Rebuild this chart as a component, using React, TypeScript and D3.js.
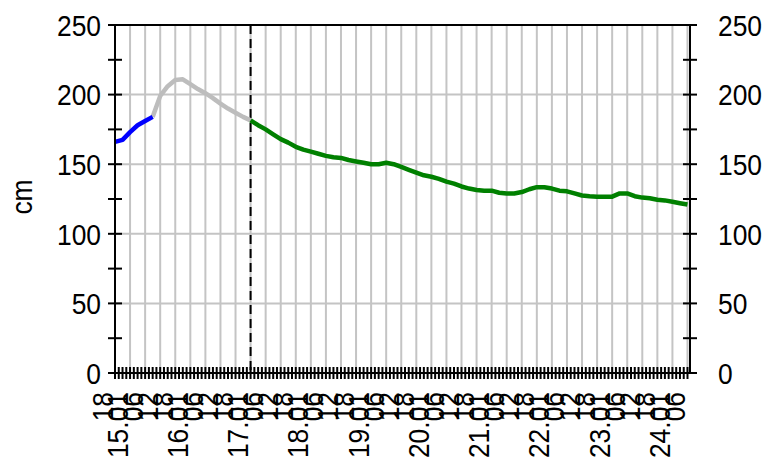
import { useEffect, useRef } from 'react';
import * as d3 from 'd3';

// time axis: 14.01 18:00 to 24.01 07:00
const domainStart = new Date(2024, 0, 14, 18);
const domainEnd = new Date(2024, 0, 24, 7);
const nowTime = new Date(2024, 0, 17, 0);

// measured (blue), 3-hourly from 14.01 18:00
const blueStart = new Date(2024, 0, 14, 18);
const blueValues = [166, 167.5, 173, 178, 181, 184];

// earlier forecast (grey), 3-hourly from 15.01 09:00
const grayStart = new Date(2024, 0, 15, 9);
const grayValues = [184, 199, 206, 210.5, 211, 207.5, 204, 201, 197.5, 193.5, 190, 187, 184, 181.5];

// forecast (green), 3-hourly from 17.01 00:00
const greenStart = new Date(2024, 0, 17, 0);
const greenValues = [
  181.5, 178, 175, 171.5, 168, 165.5, 162.5, 160.5, 159, 157.5,
  156, 155, 154.5, 153, 152, 151, 150, 150, 151, 150,
  148, 146, 144, 142, 141, 139.5, 137.5, 136, 134, 132.5,
  131.5, 131, 131, 129.5, 129, 129, 130, 132, 133.5, 133.5,
  132.5, 131, 130.5, 129, 127.5, 127, 126.7, 126.7, 126.7, 129,
  129, 127, 126, 125.5, 124.5, 124, 123, 122, 121,
];

const yTicksMajor = [0, 50, 100, 150, 200, 250];
const yTicksMinor = [0, 25, 50, 75, 100, 125, 150, 175, 200, 225, 250];
const yLabel = 'cm';

const FONT = '"Liberation Sans", Arial, sans-serif';

function toSeries(start: Date, values: number[]) {
  return values.map((v, i) => ({ t: d3.timeHour.offset(start, i * 3), v }));
}

export default function App() {
  const svgRef = useRef<SVGSVGElement>(null);

  useEffect(() => {
    if (!svgRef.current) return;
    const svg = d3.select(svgRef.current);
    svg.selectAll('*').remove();

    const left = 115, right = 690, top = 25, bottom = 373;

    const x = d3.scaleTime().domain([domainStart, domainEnd]).range([left, right]);
    const y = d3.scaleLinear().domain([0, 250]).range([bottom, top]);

    svg.append('rect').attr('width', 768).attr('height', 470).attr('fill', '#fff');

    // grid
    const gridTimes = d3.timeHour.every(6)!.range(domainStart, d3.timeHour.offset(domainEnd, 1));
    svg.append('g').selectAll('line').data(gridTimes).join('line')
      .attr('x1', d => x(d)).attr('x2', d => x(d))
      .attr('y1', top).attr('y2', bottom)
      .attr('stroke', '#c4c4c4').attr('stroke-width', 2);

    svg.append('g').selectAll('line').data(yTicksMajor.filter(v => v > 0 && v < 250)).join('line')
      .attr('x1', left).attr('x2', right)
      .attr('y1', d => y(d)).attr('y2', d => y(d))
      .attr('stroke', '#c4c4c4').attr('stroke-width', 2);

    // now marker
    svg.append('line')
      .attr('x1', x(nowTime)).attr('x2', x(nowTime))
      .attr('y1', top).attr('y2', bottom)
      .attr('stroke', '#000').attr('stroke-width', 2)
      .attr('stroke-dasharray', '9,5');

    const line = d3.line<{ t: Date; v: number }>()
      .x(d => x(d.t))
      .y(d => y(d.v));

    const series: [Date, number[], string][] = [
      [grayStart, grayValues, '#bdbdbd'],
      [blueStart, blueValues, '#0000ff'],
      [greenStart, greenValues, '#008000'],
    ];
    series.forEach(([start, vals, color]) => {
      svg.append('path')
        .datum(toSeries(start, vals))
        .attr('d', line)
        .attr('fill', 'none')
        .attr('stroke', color)
        .attr('stroke-width', 4.5)
        .attr('stroke-linejoin', 'round');
    });

    // frame
    const frame = svg.append('g').attr('stroke', '#000').attr('stroke-width', 2);
    frame.append('line').attr('x1', left).attr('x2', right).attr('y1', top).attr('y2', top);
    frame.append('line').attr('x1', left).attr('x2', right).attr('y1', bottom).attr('y2', bottom);
    frame.append('line').attr('x1', left).attr('x2', left).attr('y1', top).attr('y2', bottom);
    frame.append('line').attr('x1', right).attr('x2', right).attr('y1', top).attr('y2', bottom);

    // y ticks, both sides
    [left, right].forEach(ax => {
      frame.append('g').selectAll('line').data(yTicksMinor).join('line')
        .attr('x1', ax - 7).attr('x2', ax + 7)
        .attr('y1', d => y(d)).attr('y2', d => y(d));
    });

    // x ticks every 1.5 h
    const totalH = (domainEnd.getTime() - domainStart.getTime()) / 3600e3;
    const xTicks = d3.range(0, totalH + 0.01, 1.5).map(h => new Date(domainStart.getTime() + h * 3600e3));
    svg.append('g').selectAll('line').data(xTicks).join('line')
      .attr('x1', d => x(d)).attr('x2', d => x(d))
      .attr('y1', bottom - 6).attr('y2', bottom + 6)
      .attr('stroke', '#000').attr('stroke-width', 2);

    // y labels
    const yl = svg.append('g').attr('font-family', FONT).attr('font-size', 30).attr('fill', '#000');
    yTicksMajor.forEach(v => {
      yl.append('text')
        .attr('transform', `translate(101,${y(v)}) scale(0.88,1)`)
        .attr('text-anchor', 'end').attr('dy', '0.36em')
        .text(v);
      yl.append('text')
        .attr('transform', `translate(718,${y(v)}) scale(0.88,1)`)
        .attr('text-anchor', 'start').attr('dy', '0.36em')
        .text(v);
    });

    yl.append('text')
      .attr('transform', `translate(32,197) rotate(-90) scale(0.88,1)`)
      .attr('text-anchor', 'middle')
      .text(yLabel);

    // x labels, every 6 h, rotated
    const fmtDay = d3.timeFormat('%d.%m');
    const fmtHour = d3.timeFormat('%H');
    const xl = svg.append('g').attr('font-family', FONT).attr('font-size', 30).attr('fill', '#000');
    gridTimes.forEach(t => {
      xl.append('text')
        .attr('transform', `translate(${x(t) - 2.5},392) rotate(-90) scale(0.88,1)`)
        .attr('text-anchor', 'end')
        .text(t.getHours() === 0 ? fmtDay(t) : fmtHour(t));
    });
  }, []);

  return (
    <svg ref={svgRef} width={768} height={470}
      style={{ position: 'absolute', left: 0, top: 0, display: 'block' }} />
  );
}
